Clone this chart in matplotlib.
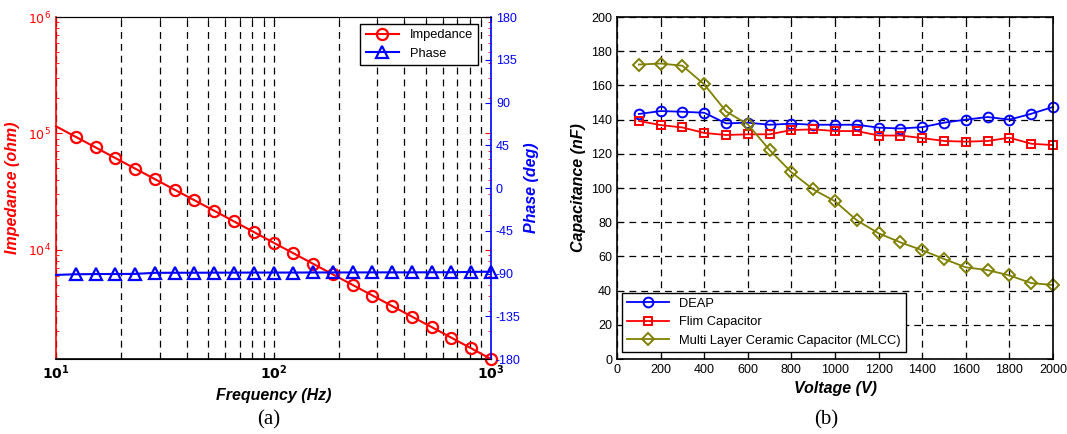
import matplotlib
matplotlib.use("Agg")
import matplotlib.pyplot as plt
from matplotlib.ticker import NullFormatter, LogLocator

plt.rcParams["font.family"] = ["Liberation Sans", "DejaVu Sans"]
plt.rcParams["axes.unicode_minus"] = False

# (a) impedance / phase vs frequency
freq = [10, 12.3, 15.2, 18.7, 23.1, 28.5, 35.1, 43.3, 53.4, 65.8, 81.1, 100,
        123, 152, 187, 231, 285, 351, 433, 534, 658, 811, 1000]
impedance = [115000, 93500, 75700, 61500, 49800, 40400, 32800, 26600, 21600,
             17500, 14200, 11500, 9350, 7570, 6150, 4980, 4040, 3280, 2660,
             2160, 1750, 1420, 1150]
phase = [-91.5, -90.8, -90.6, -90.5, -90.4, -89.3, -89.2, -89.2, -89.1, -89.1,
         -89.0, -89.0, -89.0, -88.9, -88.9, -88.9, -88.8, -88.8, -88.8, -88.7,
         -88.7, -88.3, -88.1]
phase_ticks = [-180, -135, -90, -45, 0, 45, 90, 135, 180]

# (b) capacitance vs voltage
voltage = [100, 200, 300, 400, 500, 600, 700, 800, 900, 1000,
           1100, 1200, 1300, 1400, 1500, 1600, 1700, 1800, 1900, 2000]
deap = [143.3, 145.0, 144.6, 144.0, 137.8, 138.2, 137.0, 137.6, 137.0, 137.0,
        137.0, 135.3, 134.8, 135.6, 138.2, 140.0, 141.5, 140.0, 143.4, 147.4]
flim = [139.2, 136.8, 135.4, 132.2, 131.0, 131.4, 131.4, 133.9, 134.3, 133.3,
        133.3, 130.7, 130.7, 129.2, 127.5, 127.1, 127.5, 129.4, 125.9, 125.1]
mlcc = [172.2, 172.8, 171.5, 160.6, 144.8, 137.2, 122.2, 109.2, 99.2, 92.2,
        81.1, 73.5, 68.2, 63.6, 58.5, 53.6, 52.0, 48.9, 44.4, 43.3]

grid_ls = (0, (5.5, 4))

fig = plt.figure(figsize=(10.67, 4.34), dpi=100)
ax = fig.add_axes([0.0525, 0.1728, 0.4077, 0.788])
ax2 = ax.twinx()

l1, = ax.plot(freq, impedance, color="red", lw=1.5, marker="o", ms=8,
              mfc="none", mew=1.6, markevery=list(range(1, len(freq))),
              label="Impedance", zorder=3, clip_on=False)
l2, = ax2.plot(freq, phase, color="blue", lw=1.5, marker="^", ms=8,
               mfc="none", mew=1.6, markevery=list(range(1, len(freq))),
               label="Phase", clip_on=False)

ax.set_xscale("log")
ax.set_yscale("log")
ax.set_xlim(10, 1000)
ax.set_ylim(1150, 1e6)
ax2.set_ylim(-180, 180)
ax2.set_yticks(phase_ticks)

ax.set_xticks([10, 100, 1000])
ax.set_xticklabels([r"$\mathbf{10^{1}}$", r"$\mathbf{10^{2}}$", r"$\mathbf{10^{3}}$"],
                   fontsize=10)
ax.xaxis.set_minor_locator(LogLocator(base=10, subs=range(2, 10)))
ax.xaxis.set_minor_formatter(NullFormatter())
ax.set_yticks([1e4, 1e5, 1e6])
ax.set_yticklabels([r"$10^{4}$", r"$10^{5}$", r"$10^{6}$"], fontsize=9)
ax.yaxis.set_minor_locator(LogLocator(base=10, subs=range(2, 10)))
ax.yaxis.set_minor_formatter(NullFormatter())

ax.grid(True, which="both", axis="x", color="black", ls=grid_ls, lw=0.9)
ax.tick_params(axis="x", which="both", direction="in", top=True, color="black")
ax.tick_params(axis="y", which="both", direction="in", colors="red",
               left=True, right=True, labelright=False)
ax.tick_params(axis="y", which="major", length=4)
ax2.tick_params(axis="y", direction="in", colors="blue", labelsize=9, length=4)
ax.spines["left"].set_color("red")
ax.spines["right"].set_visible(False)
ax2.spines["left"].set_visible(False)
ax2.spines["right"].set_color("blue")
ax2.spines["right"].set_linewidth(1.2)
ax.spines["left"].set_linewidth(1.2)
ax.spines["bottom"].set_linewidth(1.2)

ax.set_xlabel("Frequency (Hz)", fontsize=11.5, fontweight="bold",
              style="italic", labelpad=4)
ax.set_ylabel("Impedance (ohm)", fontsize=11.5, fontweight="bold",
              style="italic", color="red", labelpad=6)
ax2.set_ylabel("Phase (deg)", fontsize=11.5, fontweight="bold",
               style="italic", color="blue", labelpad=2)

leg = ax2.legend([l1, l2], ["Impedance", "Phase"], loc="upper right",
                 bbox_to_anchor=(0.97, 0.98), borderaxespad=0, fontsize=9.3,
                 fancybox=False, edgecolor="black", framealpha=1,
                 handlelength=2.6)
leg.get_frame().set_linewidth(1.0)

# (b)
bx = fig.add_axes([0.5783, 0.1728, 0.4086, 0.788])
bx.plot(voltage, deap, color="blue", lw=1.3, marker="o", ms=7, mfc="none",
        mew=1.4, label="DEAP", clip_on=False)
bx.plot(voltage, flim, color="red", lw=1.3, marker="s", ms=6, mfc="none",
        mew=1.4, label="Flim Capacitor", clip_on=False)
bx.plot(voltage, mlcc, color="#808000", lw=1.3, marker="D", ms=6, mfc="none",
        mew=1.4, label="Multi Layer Ceramic Capacitor (MLCC)", clip_on=False)
bx.set_xlim(0, 2000)
bx.set_ylim(0, 200)
bx.set_xticks(range(0, 2001, 200))
bx.set_yticks(range(0, 201, 20))
bx.grid(True, color="black", ls=grid_ls, lw=0.9)
bx.tick_params(direction="in", top=True, right=True, labelsize=9, length=4)
for s in bx.spines.values():
    s.set_linewidth(1.2)
bx.set_xlabel("Voltage (V)", fontsize=11.5, fontweight="bold",
              style="italic", labelpad=4)
bx.set_ylabel("Capacitance (nF)", fontsize=11.5, fontweight="bold",
              style="italic", labelpad=4)
leg2 = bx.legend(loc="lower left", bbox_to_anchor=(0.012, 0.02),
                 borderaxespad=0, fontsize=9.3, fancybox=False,
                 edgecolor="black", framealpha=1, handlelength=3.2)
leg2.get_frame().set_linewidth(1.0)

fig.text(0.252, 0.032, "(a)", fontsize=15, family="Liberation Serif",
         ha="center", va="center")
fig.text(0.774, 0.032, "(b)", fontsize=15, family="Liberation Serif",
         ha="center", va="center")

fig.savefig("out.png", dpi=100)
